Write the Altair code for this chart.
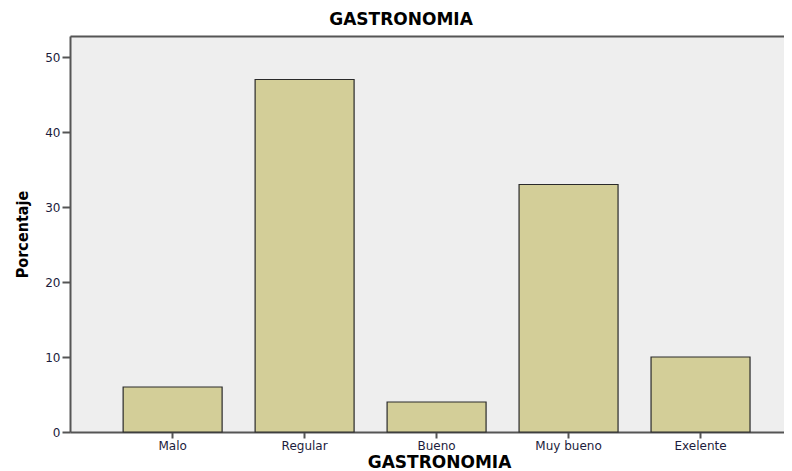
import altair as alt
import pandas as pd

categories = ["Malo", "Regular", "Bueno", "Muy bueno", "Exelente"]
porcentaje = [6, 47, 4, 33, 10]
y_ticks = [0, 10, 20, 30, 40, 50]

df = pd.DataFrame({"cat": categories, "pct": porcentaje})

x_scale = alt.Scale(paddingInner=0.25, paddingOuter=0.33, align=0.61)
y_enc = alt.Y(
    "pct:Q",
    title="Porcentaje",
    scale=alt.Scale(domain=[0, 52.8], nice=False, zero=True),
    axis=alt.Axis(
        values=y_ticks,
        grid=False,
        labelFont="DejaVu Sans",
        labelFontSize=12,
        labelColor="#1c1c3c",
        labelPadding=2,
        tickSize=8,
        titleFont="DejaVu Sans Condensed",
        titleFontSize=16,
        titleFontWeight="bold",
        titleColor="#000000",
        titlePadding=14,
    ),
)

bars = (
    alt.Chart(df)
    .mark_bar(fill="#D3CE98", stroke="#2a2a2a", strokeWidth=1.2)
    .encode(
        x=alt.X(
            "cat:N",
            sort=categories,
            title="GASTRONOMIA",
            scale=x_scale,
            axis=alt.Axis(
                labelAngle=0,
                labelFont="DejaVu Sans",
                labelFontSize=12,
                labelColor="#1c1c3c",
                labelPadding=2,
                tickSize=6,
                titleFont="DejaVu Sans",
                titleFontSize=17,
                titleFontWeight="bold",
                titleColor="#000000",
                titlePadding=3,
                titleX=369,
            ),
        ),
        y=y_enc,
    )
)

top_frame = (
    alt.Chart(df)
    .mark_bar(opacity=0)
    .encode(
        x=alt.X(
            "cat:N",
            sort=categories,
            title=None,
            scale=x_scale,
            axis=alt.Axis(orient="top", labels=False, ticks=False, title=None),
        ),
        y=alt.Y("pct:Q"),
    )
)

chart = (
    alt.layer(bars, top_frame)
    .resolve_axis(x="independent")
    .properties(
        width=714,
        height=396,
        title=alt.TitleParams(
            "GASTRONOMIA",
            font="DejaVu Sans",
            fontSize=17,
            fontWeight="bold",
            color="#000000",
            anchor="middle",
            dx=-26,
            offset=7,
        ),
        autosize=alt.AutoSizeParams(type="none"),
        padding={"left": 62, "top": 28, "right": 0, "bottom": 39},
        background="white",
    )
    .configure_view(fill="#EEEEEE", strokeWidth=0)
    .configure_axis(
        domainColor="#555555",
        domainWidth=2,
        tickColor="#555555",
        tickWidth=2,
    )
)

chart.save("out.html", embed_options={"renderer": "svg", "actions": False})
